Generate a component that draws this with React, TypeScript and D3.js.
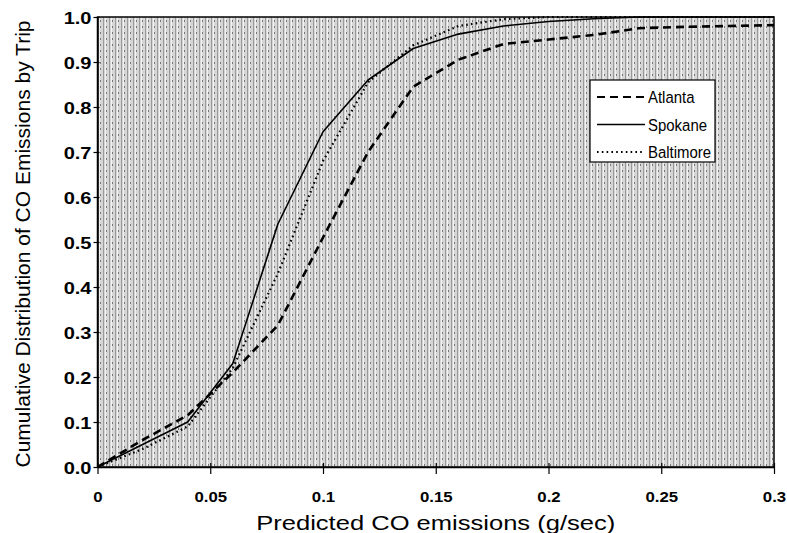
import React, { useEffect, useRef } from 'react';
import * as d3 from 'd3';

// emissions grid (g/sec) and the cumulative share per city
const emissions = [0, 0.02, 0.04, 0.06, 0.08, 0.1, 0.12, 0.14, 0.16, 0.18, 0.2, 0.22, 0.24, 0.26, 0.28, 0.3];
const atlanta = [0, 0.06, 0.115, 0.21, 0.315, 0.51, 0.7, 0.845, 0.905, 0.94, 0.95, 0.96, 0.975, 0.978, 0.98, 0.982];
const spokane = [0, 0.05, 0.1, 0.23, 0.54, 0.745, 0.86, 0.93, 0.962, 0.98, 0.99, 0.996, 1, 1, 1, 1];
const baltimore = [0, 0.04, 0.09, 0.22, 0.43, 0.68, 0.855, 0.937, 0.98, 0.995, 1, 1, 1, 1, 1, 1];

const cities = ['Atlanta', 'Spokane', 'Baltimore'];
const xTicks = [0, 0.05, 0.1, 0.15, 0.2, 0.25, 0.3];
const yTicks = [0, 0.1, 0.2, 0.3, 0.4, 0.5, 0.6, 0.7, 0.8, 0.9, 1.0];

const styles = {
  Atlanta: { dash: '8,5', width: 2.6 },
  Spokane: { dash: null, width: 1.6 },
  Baltimore: { dash: '1.6,3.2', width: 2.2 },
};

const W = 787, H = 533;
const m = { left: 97.5, right: 13, top: 17, bottom: 66 };

const Chart = () => {
  const ref = useRef(null);

  useEffect(() => {
    const svg = d3.select(ref.current);
    svg.selectAll('*').remove();

    const x = d3.scaleLinear().domain([0, 0.3]).range([m.left, W - m.right]);
    const y = d3.scaleLinear().domain([0, 1]).range([H - m.bottom, m.top]);

    // dithered grey backdrop like the scanned original
    const defs = svg.append('defs');
    const pat = defs.append('pattern')
      .attr('id', 'scan')
      .attr('width', 6).attr('height', 6)
      .attr('patternUnits', 'userSpaceOnUse');
    pat.append('rect').attr('width', 6).attr('height', 6).attr('fill', '#d6d6d6');
    pat.append('rect').attr('x', 1).attr('width', 1).attr('height', 6).attr('fill', '#9a9a9a');
    pat.append('rect').attr('x', 4).attr('y', 2).attr('width', 1).attr('height', 2).attr('fill', '#777');
    pat.append('rect').attr('x', 3).attr('width', 1).attr('height', 6).attr('fill', '#f2f2f2');

    svg.append('rect')
      .attr('x', x(0)).attr('y', y(1))
      .attr('width', x(0.3) - x(0)).attr('height', y(0) - y(1))
      .attr('fill', 'url(#scan)');

    svg.append('rect')
      .attr('x', x(0)).attr('y', y(1))
      .attr('width', x(0.3) - x(0)).attr('height', y(0) - y(1))
      .attr('fill', 'none').attr('stroke', '#000').attr('stroke-width', 1.5);

    // axes
    const yAxis = svg.append('g')
      .attr('transform', `translate(${x(0)},0)`)
      .call(d3.axisLeft(y).tickValues(yTicks).tickFormat(d3.format('.1f')).tickSize(4).tickSizeOuter(0));
    yAxis.select('.domain').attr('stroke-width', 1.5);
    yAxis.selectAll('.tick line').attr('x2', -4).attr('x1', 2).attr('stroke-width', 1.2);
    yAxis.selectAll('.tick text')
      .attr('x', null).attr('dy', '0.36em')
      .attr('transform', 'translate(-6,0) scale(1.18,1)')
      .style('font-family', 'Arial, "Liberation Sans", sans-serif')
      .style('font-size', '17px').style('font-weight', 'bold').attr('fill', '#000');

    const xAxis = svg.append('g')
      .attr('transform', `translate(0,${y(0)})`)
      .call(d3.axisBottom(x).tickValues(xTicks).tickFormat(d => String(d)).tickSize(6).tickSizeOuter(0));
    xAxis.select('.domain').attr('stroke-width', 1.5);
    xAxis.selectAll('.tick line').attr('y1', -4).attr('y2', 7).attr('stroke-width', 1.2);
    xAxis.selectAll('.tick text')
      .attr('y', null).attr('dy', null)
      .attr('transform', 'translate(0,35) scale(1.12,1)')
      .style('font-family', 'Arial, "Liberation Sans", sans-serif')
      .style('font-size', '15px').style('font-weight', 'bold').attr('fill', '#000');

    // titles
    svg.append('text')
      .attr('x', (x(0) + x(0.3)) / 2).attr('y', 530)
      .attr('text-anchor', 'middle')
      .attr('textLength', 359).attr('lengthAdjust', 'spacingAndGlyphs')
      .style('font-family', 'Arial, "Liberation Sans", sans-serif')
      .style('font-size', '20px')
      .text('Predicted CO emissions (g/sec)');

    svg.append('text')
      .attr('transform', `translate(30,${(y(0) + y(1)) / 2 + 2}) rotate(-90)`)
      .attr('text-anchor', 'middle')
      .style('font-family', 'Arial, "Liberation Sans", sans-serif')
      .style('font-size', '21px')
      .text('Cumulative Distribution of CO Emissions by Trip');

    // series
    const seriesData = { Atlanta: atlanta, Spokane: spokane, Baltimore: baltimore };
    const line = d3.line().x(d => x(d[0])).y(d => y(d[1]));

    cities.forEach(c => {
      const pts = emissions.map((e, i) => [e, seriesData[c][i]]);
      svg.append('path')
        .attr('d', line(pts))
        .attr('fill', 'none')
        .attr('stroke', '#000')
        .attr('stroke-width', styles[c].width)
        .attr('stroke-dasharray', styles[c].dash)
        .attr('stroke-linejoin', 'round');
    });

    // legend
    const lg = svg.append('g').attr('transform', 'translate(590,80)');
    lg.append('rect')
      .attr('width', 125).attr('height', 82)
      .attr('fill', '#fff').attr('stroke', '#000').attr('stroke-width', 1.2);
    cities.forEach((c, i) => {
      const cy = 17 + i * 27.5;
      lg.append('line')
        .attr('x1', 7).attr('x2', 55).attr('y1', cy).attr('y2', cy)
        .attr('stroke', '#000')
        .attr('stroke-width', styles[c].width * 0.8)
        .attr('stroke-dasharray', styles[c].dash);
      lg.append('text')
        .attr('transform', `translate(58,${cy}) scale(0.88,1)`)
        .attr('dy', '0.36em')
        .style('font-family', 'Arial, "Liberation Sans", sans-serif')
        .style('font-size', '17px')
        .text(c);
    });
  }, []);

  return <svg ref={ref} width={W} height={H} style={{ position: 'absolute', left: 0, top: 0, background: '#fff' }}></svg>;
};

export default function App() {
  return <Chart />;
}
